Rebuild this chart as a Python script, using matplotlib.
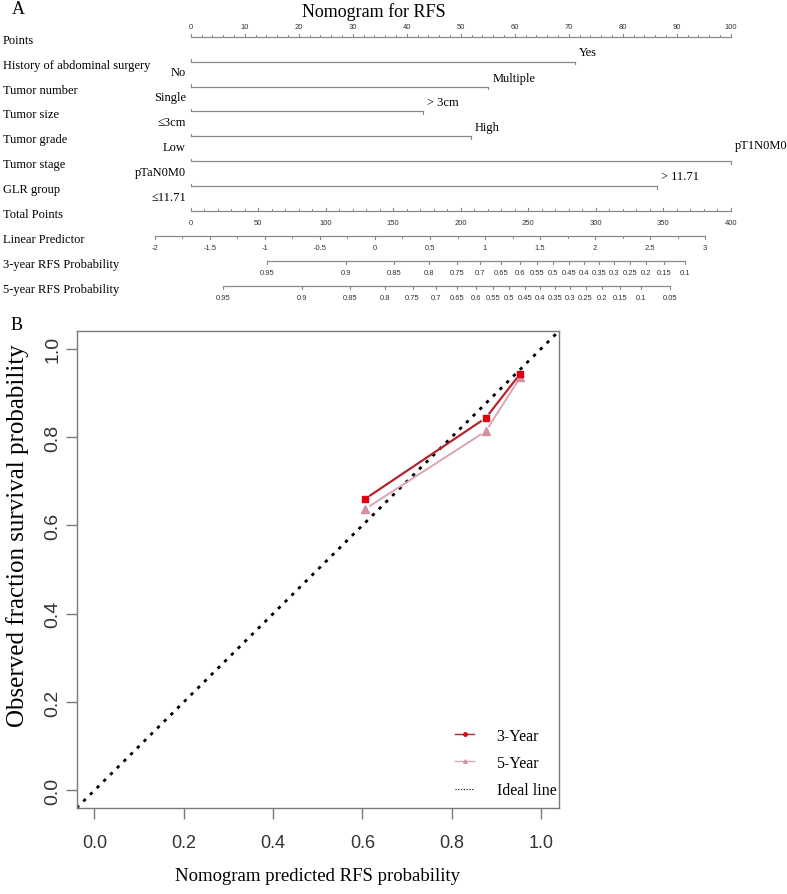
import numpy as np
import matplotlib
matplotlib.use("Agg")
import matplotlib.pyplot as plt
from matplotlib.lines import Line2D

# ---- nomogram data ----
variables = ["History of abdominal surgery", "Tumor number", "Tumor size",
             "Tumor grade", "Tumor stage", "GLR group"]
low_levels = ["No", "Single", "≤3cm", "Low", "pTaN0M0", "≤11.71"]
high_levels = ["Yes", "Multiple", "> 3cm", "High", "pT1N0M0", "> 11.71"]
high_points = [71.2, 55.1, 43.0, 51.9, 100.0, 86.4]

points_ticks = [0, 10, 20, 30, 40, 50, 60, 70, 80, 90, 100]
total_ticks = [0, 50, 100, 150, 200, 250, 300, 350, 400]
lp_ticks = [-2, -1.5, -1, -0.5, 0, 0.5, 1, 1.5, 2, 2.5, 3]
lp_labels = ["-2", "-1.5", "-1", "-0.5", "0", "0.5", "1", "1.5", "2", "2.5", "3"]
prob3_ticks = [0.95, 0.9, 0.85, 0.8, 0.75, 0.7, 0.65, 0.6, 0.55, 0.5, 0.45,
               0.4, 0.35, 0.3, 0.25, 0.2, 0.15, 0.1]
prob5_ticks = [0.95, 0.9, 0.85, 0.8, 0.75, 0.7, 0.65, 0.6, 0.55, 0.5, 0.45,
               0.4, 0.35, 0.3, 0.25, 0.2, 0.15, 0.1, 0.05]
lp_intercept = -1.675
lp_per_point = 0.01227
base_surv_3y = 0.872
base_surv_5y = 0.815

# ---- calibration data ----
pred_3y = [0.606, 0.876, 0.953]
obs_3y = [0.660, 0.843, 0.943]
pred_5y = [0.606, 0.876, 0.953]
obs_5y = [0.637, 0.813, 0.935]

serif = ["Liberation Serif", "DejaVu Serif"]
sans = ["Liberation Sans", "DejaVu Sans"]
line_col = "#8a8a8a"
tick_txt = "#333333"

W, H = 787, 895
fig = plt.figure(figsize=(W / 100, H / 100), dpi=100)

# nomogram panel, x in "points" units, y in pixels
nom_h = 310
axn = fig.add_axes([0, 1 - nom_h / H, 1, nom_h / H])
x0_px, px_per_pt = 190.7, 5.4
axn.set_xlim(-x0_px / px_per_pt, (W - x0_px) / px_per_pt)
axn.set_ylim(nom_h, 0)
axn.axis("off")


def px(x):
    return (x - x0_px) / px_per_pt


def total_to_x(t):
    return np.asarray(t) * 100 / 400


def lp_to_x(lp):
    return total_to_x((np.asarray(lp) - lp_intercept) / lp_per_point)


def prob_to_x(p, s0):
    lp = np.log(-np.log(np.asarray(p))) - np.log(-np.log(s0))
    return lp_to_x(lp)


def draw_scale(y, xs, labels, minor=(), up=True, above=False):
    xs = np.asarray(xs, dtype=float)
    axn.plot([xs.min(), xs.max()], [y, y], color=line_col, lw=0.9)
    d = -1 if up else 1
    for xm in minor:
        axn.plot([xm, xm], [y, y + d * 2.2], color=line_col, lw=0.7)
    for xv, lab in zip(xs, labels):
        axn.plot([xv, xv], [y, y + d * 3.2], color=line_col, lw=0.8)
        ty = y - 10 if above else y + 11.5
        axn.text(xv, ty, lab, ha="center", va="center", fontsize=5.5,
                 family=sans, color=tick_txt)


row_y = [37.7 + 24.9 * i for i in range(11)]
row_names = ["Points"] + variables + ["Total Points", "Linear Predictor",
                                      "3-year RFS Probability",
                                      "5-year RFS Probability"]
for y, name in zip(row_y, row_names):
    axn.text(px(3), y + 3, name, ha="left", va="center", fontsize=9,
             family=serif)

# points axis
draw_scale(row_y[0], points_ticks, [str(t) for t in points_ticks],
           minor=np.arange(0, 101, 2), up=True, above=True)

# variable rows
high_dy = [-10, -8.5, -9.5, -9.5, -16, -10]
for i, (lo, hi, pts) in enumerate(zip(low_levels, high_levels, high_points)):
    y = row_y[i + 1]
    axn.plot([0, pts], [y, y], color=line_col, lw=0.9)
    axn.plot([0, 0], [y, y - 2.5], color=line_col, lw=0.8)
    axn.plot([pts, pts], [y, y + 2.5], color=line_col, lw=0.8)
    axn.text(px(186), y + 10.5, lo, ha="right", va="center", fontsize=9,
             family=serif)
    axn.text(pts + 4 / px_per_pt, y + high_dy[i], hi, ha="left", va="center",
             fontsize=9, family=serif)

# total points
draw_scale(row_y[7], total_to_x(total_ticks), [str(t) for t in total_ticks],
           minor=total_to_x(np.arange(0, 401, 10)), up=True)
# linear predictor
draw_scale(row_y[8], lp_to_x(lp_ticks), lp_labels,
           minor=lp_to_x(np.arange(-2, 3.01, 0.25)), up=False)
# survival probabilities
draw_scale(row_y[9], prob_to_x(prob3_ticks, base_surv_3y),
           [f"{p:g}" for p in prob3_ticks], up=False)
draw_scale(row_y[10], prob_to_x(prob5_ticks, base_surv_5y),
           [f"{p:g}" for p in prob5_ticks], up=False)

fig.text(373.7 / W, 1 - 12 / H, "Nomogram for RFS", ha="center", va="center",
         fontsize=13, family=serif)
fig.text(18.5 / W, 1 - 9 / H, "A", ha="center", va="center", fontsize=13,
         family=serif)
fig.text(17 / W, 1 - 326 / H, "B", ha="center", va="center", fontsize=13,
         family=serif)

# ---- calibration panel ----
ax = fig.add_axes([76.6 / W, 1 - 809 / H, (559 - 76.6) / W, (809 - 332) / H])
ax.set_xlim(-0.04, 1.04)
ax.set_ylim(-0.04, 1.04)
ticks = [0, 0.2, 0.4, 0.6, 0.8, 1.0]
ax.set_xticks(ticks, [f"{t:.1f}" for t in ticks])
ax.set_yticks(ticks, [f"{t:.1f}" for t in ticks])
for s in ax.spines.values():
    s.set_color("#7a7a7a")
    s.set_linewidth(1.0)
ax.tick_params(axis="both", direction="out", length=7.7, width=1.0,
               color="#7a7a7a", labelcolor=tick_txt)
ax.tick_params(axis="x", pad=11, labelsize=13)
ax.tick_params(axis="y", pad=3.5, labelsize=14, labelrotation=90)
for lab in ax.get_yticklabels():
    lab.set_va("center")
    lab.set_family(sans)
for lab in ax.get_xticklabels():
    lab.set_family(sans)

ax.set_xlabel("Nomogram predicted RFS probability", fontsize=13.5, family=serif)
ax.xaxis.set_label_coords(0.5, (809 - 877) / 477)
ax.xaxis.label.set_va("center")
ax.set_ylabel("Observed fraction survival probability", fontsize=18,
              family=serif)
ax.yaxis.set_label_coords((18 - 76.6) / 482.4, (809 - 536) / 477)
ax.yaxis.label.set_va("center")

ax.axline((0, 0), slope=1, color="black", lw=2.0, linestyle=(0, (1.2, 2.2)),
          zorder=2)


def gapped_line(xs, ys, gap, **kw):
    pts = ax.transData.transform(np.column_stack([xs, ys]))
    inv = ax.transData.inverted()
    for a, b in zip(pts[:-1], pts[1:]):
        u = (b - a) / np.hypot(*(b - a))
        seg = inv.transform(np.array([a + u * gap, b - u * gap]))
        ax.plot(seg[:, 0], seg[:, 1], **kw)


c3_line, c3_mark = "#b3262b", "#e0000f"
c5_line, c5_mark = "#d9a5ae", "#d391a0"
gapped_line(pred_5y, obs_5y, 6, color=c5_line, lw=1.4, zorder=3)
ax.plot(pred_5y, obs_5y, ls="none", marker="^", ms=5.5, color=c5_mark, zorder=4)
gapped_line(pred_3y, obs_3y, 6, color=c3_line, lw=1.6, zorder=3)
ax.plot(pred_3y, obs_3y, ls="none", marker="s", ms=5, color=c3_mark, zorder=5)

handles = [
    Line2D([], [], color=c3_line, lw=1, marker="o", ms=2.5, mfc=c3_mark,
           mec=c3_mark),
    Line2D([], [], color=c5_line, lw=1, marker="^", ms=2.5, mfc=c5_mark,
           mec=c5_mark),
    Line2D([], [], color="black", lw=0.8, linestyle=(0, (1, 1.5))),
]
ax.legend(handles, ["3-Year", "5-Year", "Ideal line"], loc="center left",
          bbox_to_anchor=((455 - 76.6) / 482.4, (809 - 764) / 477),
          frameon=False, prop={"family": serif, "size": 11.5},
          handlelength=1.2, handletextpad=1.4, labelspacing=0.7,
          borderpad=0, borderaxespad=0)

fig.savefig("out.png", dpi=100)
